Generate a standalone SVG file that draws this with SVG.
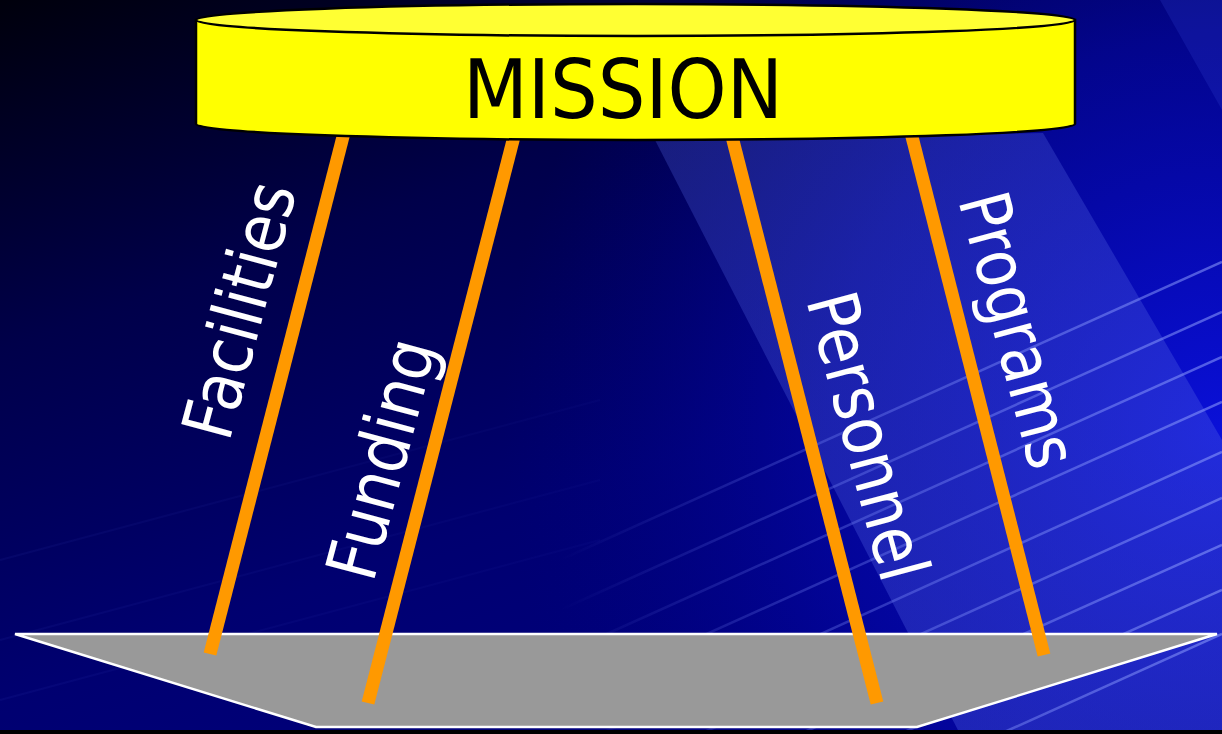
<svg xmlns="http://www.w3.org/2000/svg" width="1222" height="734" viewBox="0 0 1222 734">
<defs>
<linearGradient id="bg" x1="0" y1="0" x2="0.6" y2="1">
<stop offset="0" stop-color="#00000c"/>
<stop offset="0.35" stop-color="#00004a"/>
<stop offset="0.7" stop-color="#000070"/>
<stop offset="1" stop-color="#000080"/>
</linearGradient>
<radialGradient id="glow" gradientUnits="userSpaceOnUse" cx="1222" cy="430" r="720">
<stop offset="0" stop-color="#0a10d8" stop-opacity="1"/>
<stop offset="0.55" stop-color="#0508b0" stop-opacity="0.6"/>
<stop offset="1" stop-color="#000080" stop-opacity="0"/>
</radialGradient>
<linearGradient id="band" gradientUnits="userSpaceOnUse" x1="650" y1="140" x2="1100" y2="650">
<stop offset="0" stop-color="#4a5ad0" stop-opacity="0.32"/>
<stop offset="1" stop-color="#5060e8" stop-opacity="0.35"/>
</linearGradient>
<linearGradient id="streak" gradientUnits="userSpaceOnUse" x1="560" y1="0" x2="1222" y2="0">
<stop offset="0" stop-color="#8090ff" stop-opacity="0"/>
<stop offset="0.4" stop-color="#8090ff" stop-opacity="0.3"/>
<stop offset="1" stop-color="#90a0ff" stop-opacity="0.55"/>
</linearGradient>
<linearGradient id="streak2" gradientUnits="userSpaceOnUse" x1="0" y1="0" x2="600" y2="0">
<stop offset="0" stop-color="#6070ff" stop-opacity="0.06"/>
<stop offset="1" stop-color="#6070ff" stop-opacity="0.03"/>
</linearGradient>
<style>
.pillar{stroke:#ff9900;stroke-width:13;stroke-linecap:butt;fill:none}
.lbl{fill:#ffffff;font-family:"DejaVu Sans","Liberation Sans",sans-serif;font-size:70px}
.st{stroke:url(#streak);stroke-width:2.5;fill:none}
.st2{stroke:url(#streak2);stroke-width:2;fill:none}
</style>
</defs>

<g id="background">
<rect x="0" y="0" width="1222" height="734" fill="url(#bg)"/>
<rect x="0" y="0" width="1222" height="734" fill="url(#glow)"/>
<polygon points="655,140 1043,133 1222,440 1222,734 960,734" fill="url(#band)"/>
<polygon points="1160,0 1222,0 1222,110" fill="#3040d0" fill-opacity="0.25"/>
<g>
<line class="st" x1="560" y1="560" x2="1222" y2="262"/>
<line class="st" x1="560" y1="610" x2="1222" y2="312"/>
<line class="st" x1="560" y1="655" x2="1222" y2="357"/>
<line class="st" x1="560" y1="700" x2="1222" y2="402"/>
<line class="st" x1="600" y1="734" x2="1222" y2="452"/>
<line class="st" x1="700" y1="734" x2="1222" y2="498"/>
<line class="st" x1="800" y1="734" x2="1222" y2="545"/>
<line class="st" x1="900" y1="734" x2="1222" y2="590"/>
<line class="st" x1="1000" y1="734" x2="1222" y2="634"/>
<line class="st2" x1="0" y1="560" x2="600" y2="400"/>
<line class="st2" x1="0" y1="640" x2="600" y2="480"/>
<line class="st2" x1="0" y1="700" x2="600" y2="540"/>
</g>
<rect x="0" y="730" width="1222" height="4" fill="#000000"/>
</g>

<g id="base">
<polygon points="15,634 1217,634 917,727 316,727" fill="#999999" stroke="#ffffff" stroke-width="2.5" stroke-linejoin="miter"/>
</g>

<g id="connectors">
<line class="pillar" x1="346" y1="125" x2="210" y2="654"/>
<line class="pillar" x1="517" y1="125" x2="368" y2="703"/>
<line class="pillar" x1="729" y1="125" x2="877" y2="703"/>
<line class="pillar" x1="909" y1="125" x2="1044" y2="655"/>
</g>

<g id="label-facilities">
<text class="lbl" transform="translate(229,443) rotate(-75)" textLength="262" lengthAdjust="spacingAndGlyphs">Facilities</text>
</g>
<g id="label-funding">
<text class="lbl" transform="translate(373,584) rotate(-75)" textLength="246" lengthAdjust="spacingAndGlyphs">Funding</text>
</g>
<g id="label-personnel">
<text class="lbl" transform="translate(806,300) rotate(75)" textLength="295" lengthAdjust="spacingAndGlyphs">Personnel</text>
</g>
<g id="label-programs">
<text class="lbl" transform="translate(958,200) rotate(75)" textLength="282" lengthAdjust="spacingAndGlyphs">Programs</text>
</g>

<g id="mission">
<path d="M196,20 V124 A439.5,16 0 0 0 1075,124 V20 Z" fill="#ffff00" stroke="#000000" stroke-width="2.5"/>
<ellipse cx="635.5" cy="20" rx="439.5" ry="16" fill="#ffff33" stroke="#000000" stroke-width="2.5"/>
<text x="623" y="118" text-anchor="middle" font-family="DejaVu Sans, Liberation Sans, sans-serif" font-size="82" fill="#000000" textLength="320" lengthAdjust="spacingAndGlyphs">MISSION</text>
</g>
</svg>
